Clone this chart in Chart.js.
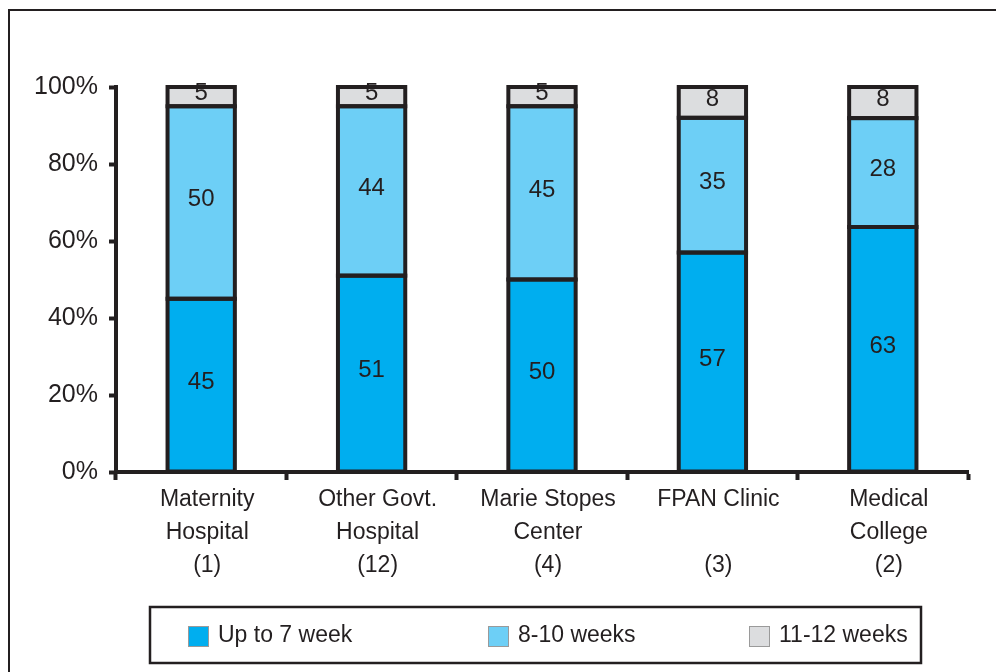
<!DOCTYPE html>
<html>
<head>
<meta charset="utf-8">
<script src="https://cdn.jsdelivr.net/npm/chart.js@4/dist/chart.umd.min.js"></script>
<style>
html,body{margin:0;padding:0;background:#fff;}
canvas{display:block;}
</style>
</head>
<body>
<canvas id="c" width="996" height="672"></canvas>
<script>
const categories = [
  ["Maternity", "Hospital", "(1)"],
  ["Other Govt.", "Hospital", "(12)"],
  ["Marie Stopes", "Center", "(4)"],
  ["FPAN Clinic", "", "(3)"],
  ["Medical", "College", "(2)"]
];
const seriesNames = ["Up to 7 week", "8-10 weeks", "11-12 weeks"];
const upTo7 = [45, 51, 50, 57, 63];
const weeks8to10 = [50, 44, 45, 35, 28];
const weeks11to12 = [5, 5, 5, 8, 8];
const yTicks = [0, 20, 40, 60, 80, 100];

const colors = ["#00aeef", "#6dcff6", "#dcdddf"];
const dark = "#231f20";
const FONT = "'Liberation Sans', Arial, sans-serif";

const raw = [upTo7, weeks8to10, weeks11to12];
const totals = categories.map((_, i) => raw.reduce((s, a) => s + a[i], 0));
const pct = raw.map(a => a.map((v, i) => v / totals[i] * 100));

const frameAndLegend = {
  id: 'frameAndLegend',
  beforeDraw(chart) {
    const ctx = chart.ctx;
    ctx.save();
    ctx.fillStyle = '#fff';
    ctx.fillRect(0, 0, chart.width, chart.height);
    ctx.strokeStyle = dark;
    ctx.lineWidth = 2;
    ctx.strokeRect(9, 10, 1100, 1000);
    ctx.restore();
  },
  afterDraw(chart) {
    const ctx = chart.ctx;
    ctx.save();
    ctx.strokeStyle = dark;
    ctx.lineWidth = 2.5;
    ctx.strokeRect(150, 607, 771, 56);
    const xs = [188, 488, 749];
    ctx.font = "23px " + FONT;
    ctx.textBaseline = 'middle';
    ctx.textAlign = 'left';
    seriesNames.forEach((n, i) => {
      ctx.fillStyle = colors[i];
      ctx.fillRect(xs[i], 626, 20, 20);
      ctx.strokeStyle = '#9a9a9a';
      ctx.lineWidth = 1;
      ctx.strokeRect(xs[i] + 0.5, 626.5, 20, 20);
      ctx.fillStyle = dark;
      ctx.fillText(n, xs[i] + 30, 636);
    });
    ctx.restore();
  },
  afterDatasetsDraw(chart) {
    const ctx = chart.ctx;
    ctx.save();
    ctx.strokeStyle = dark;
    ctx.lineWidth = 4;
    chart.data.datasets.forEach((ds, di) => {
      const meta = chart.getDatasetMeta(di);
      meta.data.forEach(bar => {
        const p = bar.getProps(['x', 'y', 'base', 'width'], true);
        ctx.strokeRect(p.x - p.width / 2, Math.min(p.y, p.base), p.width, Math.abs(p.base - p.y));
      });
    });
    ctx.font = "24px " + FONT;
    ctx.fillStyle = dark;
    ctx.textAlign = 'center';
    ctx.textBaseline = 'middle';
    chart.data.datasets.forEach((ds, di) => {
      const meta = chart.getDatasetMeta(di);
      meta.data.forEach((bar, i) => {
        const p = bar.getProps(['x', 'y', 'base'], true);
        const cy = (p.y + p.base) / 2 - 3;
        ctx.fillText(String(raw[di][i]), p.x, cy);
      });
    });
    ctx.restore();
  }
};

new Chart(document.getElementById('c'), {
  type: 'bar',
  data: {
    labels: categories,
    datasets: seriesNames.map((n, i) => ({
      label: n,
      data: pct[i],
      backgroundColor: colors[i],
      borderWidth: 0,
      barPercentage: 0.395,
      categoryPercentage: 1,
      inflateAmount: 0
    }))
  },
  options: {
    responsive: false,
    animation: false,
    layout: {padding: {left: 0, top: 87, right: 28, bottom: 0}},
    plugins: {legend: {display: false}, tooltip: {enabled: false}},
    scales: {
      x: {
        stacked: true,
        afterFit(s) { s.height = 200; },
        grid: {display: true, drawOnChartArea: false, drawTicks: true, tickLength: 8, tickWidth: 4, tickColor: dark, offset: true},
        border: {display: true, color: dark, width: 4, z: 1},
        ticks: {color: dark, font: {family: FONT, size: 23, lineHeight: 1.43}, padding: 3, labelOffset: 6, maxRotation: 0, autoSkip: false}
      },
      y: {
        stacked: true,
        min: 0, max: 100,
        afterFit(s) { s.width = 116; },
        afterBuildTicks(s) { s.ticks = yTicks.map(v => ({value: v})); },
        grid: {display: true, drawOnChartArea: false, drawTicks: true, tickLength: 7, tickWidth: 4, tickColor: dark},
        border: {display: true, color: dark, width: 4},
        ticks: {color: dark, font: {family: FONT, size: 25}, padding: 11, callback: v => v + '%'}
      }
    }
  },
  plugins: [frameAndLegend]
});
</script>
</body>
</html>
